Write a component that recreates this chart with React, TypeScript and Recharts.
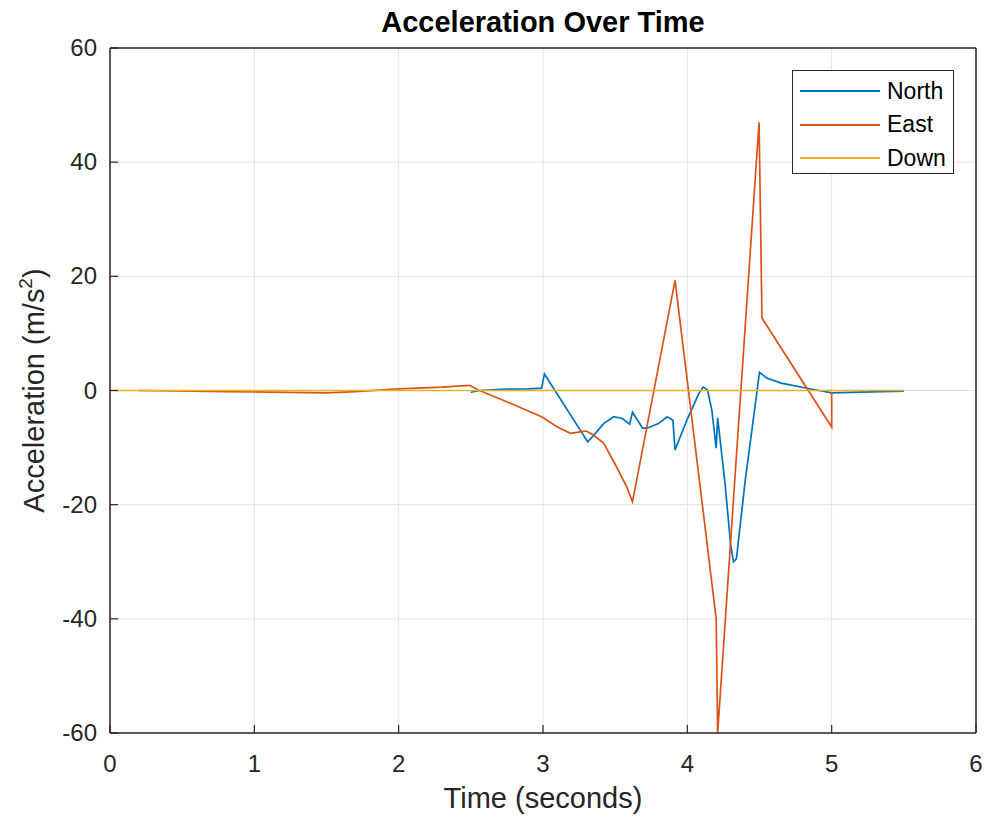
import React from "react";
import { LineChart, Line, XAxis, YAxis, CartesianGrid } from "recharts";

const northT = [2.5, 2.56, 2.7, 2.9, 2.99, 3.01, 3.31, 3.36, 3.42, 3.49, 3.55, 3.6, 3.62, 3.69, 3.72, 3.8, 3.86, 3.9, 3.915, 4.0, 4.08, 4.11, 4.14, 4.17, 4.2, 4.21, 4.26, 4.3, 4.32, 4.34, 4.4, 4.5, 4.55, 4.65, 4.83, 5.0, 5.2, 5.5];
const northV = [-0.3, 0, 0.2, 0.3, 0.4, 2.9, -9.0, -7.6, -5.8, -4.6, -4.9, -5.9, -3.8, -6.6, -6.6, -5.8, -4.6, -5.2, -10.4, -5.0, -0.5, 0.6, 0.1, -3.5, -10.1, -4.8, -16, -27, -30, -29.5, -16, 3.2, 2.2, 1.3, 0.4, -0.4, -0.3, -0.1];

const eastT = [0.2, 0.8, 1.5, 1.7, 2.0, 2.3, 2.49, 2.56, 2.77, 2.99, 3.1, 3.19, 3.27, 3.3, 3.35, 3.42, 3.51, 3.58, 3.62, 3.915, 4.2, 4.21, 4.497, 4.517, 5.0, 5.0];
const eastV = [0, -0.2, -0.4, -0.2, 0.3, 0.6, 0.9, 0, -2.2, -4.6, -6.4, -7.5, -7.2, -7.1, -7.8, -9.2, -13.4, -16.9, -19.5, 19.3, -40, -60, 47, 12.7, -6.4, -0.2];

const downT = [0, 5.5];
const downV = [0, 0];

const xTicks = [0, 1, 2, 3, 4, 5, 6];
const yTicks = [-60, -40, -20, 0, 20, 40, 60];

const seriesNames = ["North", "East", "Down"];
const seriesColors = ["#0072BD", "#D95319", "#EDB120"];

const toData = (t: number[], v: number[]) => t.map((x, i) => ({ t: x, v: v[i] }));
const northData = toData(northT, northV);
const eastData = toData(eastT, eastV);
const downData = toData(downT, downV);

const FONT = "'Liberation Sans', Arial, Helvetica, sans-serif";
const AX = "#262626";
const TICK_LEN = 8;

const BottomTick = (props: any) => {
  const { x, y, payload } = props;
  return (
    <g>
      <line x1={x} y1={y} x2={x} y2={y - TICK_LEN} stroke={AX} strokeWidth={1.2} />
      <text x={x} y={y + 39} textAnchor="middle" fill={AX} fontSize={24} fontFamily={FONT}>
        {payload.value}
      </text>
    </g>
  );
};

const TopTick = (props: any) => {
  const { x, y } = props;
  return <line x1={x} y1={y} x2={x} y2={y + TICK_LEN} stroke={AX} strokeWidth={1.2} />;
};

const LeftTick = (props: any) => {
  const { x, y, payload } = props;
  return (
    <g>
      <line x1={x} y1={y} x2={x + TICK_LEN} y2={y} stroke={AX} strokeWidth={1.2} />
      <text x={x - 13} y={y + 8} textAnchor="end" fill={AX} fontSize={24} fontFamily={FONT}>
        {payload.value}
      </text>
    </g>
  );
};

const RightTick = (props: any) => {
  const { x, y } = props;
  return <line x1={x} y1={y} x2={x - TICK_LEN} y2={y} stroke={AX} strokeWidth={1.2} />;
};

const LegendBox = () => (
  <div
    style={{
      position: "absolute",
      left: 792,
      top: 70,
      border: "1.5px solid #262626",
      background: "#fff",
      width: 162,
      height: 104,
      boxSizing: "border-box",
      fontFamily: FONT,
      fontSize: 23,
      color: "#000",
    }}
  >
    {seriesNames.map((n, i) => (
      <div
        key={n}
        style={{ position: "absolute", left: 7, top: 5 + i * 33.5, height: 30, display: "flex", alignItems: "center" }}
      >
        <div style={{ width: 80, height: 2, background: seriesColors[i], marginRight: 7 }} />
        <span>{n}</span>
      </div>
    ))}
  </div>
);

const YLabel = (props: any) => {
  const { viewBox } = props;
  const cy = viewBox.y + viewBox.height / 2;
  const cx = 44;
  return (
    <text
      x={cx}
      y={cy}
      transform={`rotate(-90, ${cx}, ${cy})`}
      textAnchor="middle"
      fontFamily={FONT}
      fontSize={29}
      fill={AX}
    >
      Acceleration (m/s
      <tspan fontSize={19} dy={-12}>2</tspan>
      <tspan dy={12}>)</tspan>
    </text>
  );
};

export default function App() {
  return (
    <div style={{ position: "absolute", left: 0, top: 0, width: 988, height: 825, background: "#fff" }}>
      <div
        style={{
          position: "absolute",
          top: 4,
          left: 110,
          width: 866,
          textAlign: "center",
          fontFamily: FONT,
          fontWeight: "bold",
          fontSize: 29,
          lineHeight: "36px",
          color: "#000",
        }}
      >
        Acceleration Over Time
      </div>
      <LineChart width={988} height={825} margin={{ top: 47, right: 11, left: 50, bottom: 52 }}>
        <CartesianGrid stroke="#e3e3e3" strokeWidth={1} />
        <XAxis
          dataKey="t"
          type="number"
          domain={[0, 6]}
          ticks={xTicks}
          stroke={AX}
          strokeWidth={1.5}
          tickLine={false}
          tickSize={0}
          tickMargin={0}
          tick={<BottomTick />}
          height={40}
          label={{ value: "Time (seconds)", position: "insideBottom", offset: -35, fill: AX, fontSize: 29, fontFamily: FONT }}
        />
        <XAxis
          xAxisId="top"
          orientation="top"
          type="number"
          domain={[0, 6]}
          ticks={xTicks}
          tickLine={false}
          tickSize={0}
          tickMargin={0}
          tick={<TopTick />}
          stroke={AX}
          strokeWidth={1.5}
          height={1}
        />
        <YAxis
          dataKey="v"
          type="number"
          domain={[-60, 60]}
          ticks={yTicks}
          stroke={AX}
          strokeWidth={1.5}
          tickLine={false}
          tickSize={0}
          tickMargin={0}
          width={60}
          tick={<LeftTick />}
          label={<YLabel />}
        />
        <YAxis
          yAxisId="right"
          orientation="right"
          type="number"
          domain={[-60, 60]}
          ticks={yTicks}
          tickLine={false}
          tickSize={0}
          tickMargin={0}
          tick={<RightTick />}
          stroke={AX}
          strokeWidth={1.5}
          width={1}
        />
        <Line data={northData} dataKey="v" name="North" stroke={seriesColors[0]} strokeWidth={1.7} dot={false} isAnimationActive={false} />
        <Line data={eastData} dataKey="v" name="East" stroke={seriesColors[1]} strokeWidth={1.7} dot={false} isAnimationActive={false} />
        <Line data={downData} dataKey="v" name="Down" stroke={seriesColors[2]} strokeWidth={1.7} dot={false} isAnimationActive={false} />
      </LineChart>
      <LegendBox />
    </div>
  );
}
